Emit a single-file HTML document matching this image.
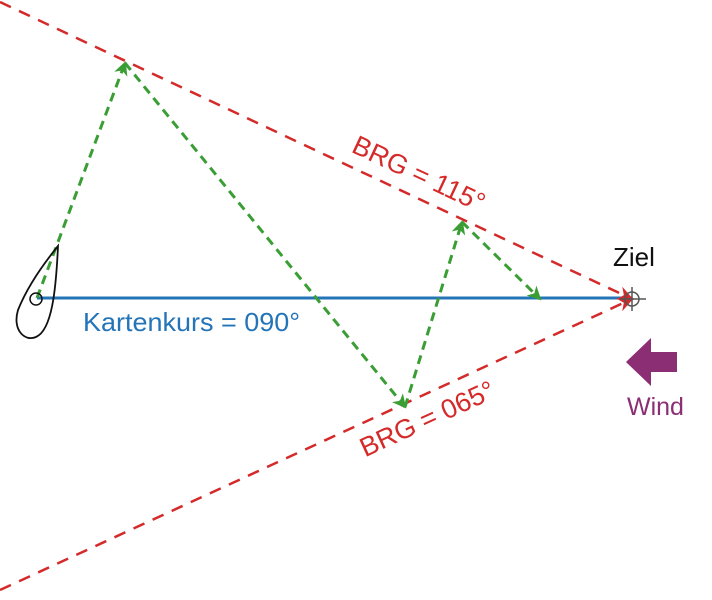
<!DOCTYPE html>
<html><head><style>body{margin:0;background:#fff}svg{display:block}</style></head>
<body>
<svg width="712" height="600" viewBox="0 0 712 600" xmlns="http://www.w3.org/2000/svg" font-family="Liberation Sans, sans-serif">
<defs>
<marker id="g" markerWidth="14" markerHeight="14" refX="12" refY="7" orient="auto" markerUnits="userSpaceOnUse"><path d="M0,0 L14,7 L0,14 L4,7 z" fill="#3a9e35"/></marker>
<marker id="r" markerWidth="16" markerHeight="14" refX="14" refY="7" orient="auto" markerUnits="userSpaceOnUse"><path d="M0,0 L16,7 L0,14 L5,7 z" fill="#d42a2a"/></marker>
</defs>
<line x1="37" y1="298" x2="632" y2="298" stroke="#2474b8" stroke-width="3"/>
<line x1="0" y1="2" x2="632" y2="299" stroke="#d42a2a" stroke-width="2.5" stroke-dasharray="12,9" marker-end="url(#r)"/>
<line x1="0" y1="590" x2="632" y2="299" stroke="#d42a2a" stroke-width="2.5" stroke-dasharray="12,9" marker-end="url(#r)"/>
<g stroke="#3a9e35" stroke-width="3" stroke-dasharray="9,6" fill="none">
<line x1="37" y1="298" x2="125" y2="63" marker-end="url(#g)"/>
<line x1="125" y1="63" x2="405" y2="407" marker-end="url(#g)"/>
<line x1="405" y1="407" x2="462" y2="222" marker-end="url(#g)"/>
<line x1="462" y1="222" x2="540" y2="299" marker-end="url(#g)"/>
</g>
<path d="M58,246 C45,262 28,285 18,310 C12,330 25,342 36,337 C52,330 56,290 58,246 z" fill="none" stroke="#111" stroke-width="1.8"/>
<circle cx="36" cy="299" r="6" fill="none" stroke="#111" stroke-width="1.5"/>
<circle cx="632" cy="299" r="7" fill="none" stroke="#555" stroke-width="1.5"/>
<line x1="620" y1="299" x2="646" y2="299" stroke="#555" stroke-width="1.5"/>
<line x1="632" y1="287" x2="632" y2="311" stroke="#555" stroke-width="1.5"/>
<polygon points="626,362 651,338 651,352 677,352 677,372 651,372 651,386" fill="#8b2e73"/>
<text x="83" y="331" font-size="26" fill="#2474b8" textLength="217" lengthAdjust="spacingAndGlyphs">Kartenkurs = 090°</text>
<text x="613" y="266" font-size="26" fill="#111">Ziel</text>
<text x="627" y="415" font-size="25" fill="#8b2e73">Wind</text>
<text x="415" y="182" font-size="27" fill="#d42a2a" text-anchor="middle" transform="rotate(25.2 415 182)">BRG = 115°</text>
<text x="431" y="427" font-size="27" fill="#d42a2a" text-anchor="middle" transform="rotate(-24.7 431 427)">BRG = 065°</text>
</svg>
</body></html>
